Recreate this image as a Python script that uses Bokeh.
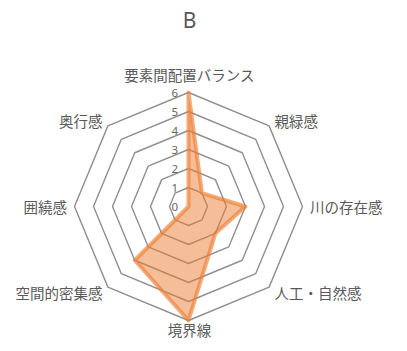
import numpy as np
from bokeh.plotting import figure
from bokeh.models import Range1d, ColumnDataSource
from bokeh.core.properties import value
from bokeh.embed import file_html
from bokeh.resources import INLINE

title_text = "B"
categories = ["要素間配置バランス", "親緑感", "川の存在感", "人工・自然感",
              "境界線", "空間的密集感", "囲繞感", "奥行感"]
values = [6, 1, 3, 2, 6, 4, 0, 0]
ring_values = [1, 2, 3, 4, 5, 6]
ring_labels = ["0", "1", "2", "3", "4", "5", "6"]

W, H = 391, 343
unit = 19.0          # px per value unit
cx, cy = 188, 206    # centre in frame px (from top-left)

p = figure(width=W, height=H, output_backend="svg", toolbar_location=None,
           x_range=Range1d(-cx / unit, (W - cx) / unit),
           y_range=Range1d(-(H - cy) / unit, cy / unit),
           x_axis_location=None, y_axis_location=None, title=None,
           min_border=0)
p.grid.visible = False
p.outline_line_color = None
p.background_fill_color = "white"

n = len(categories)
ang = np.arange(n) * 2 * np.pi / n
sx, cxs = np.sin(ang), np.cos(ang)

# grid rings
for r in ring_values:
    xs = list(r * sx) + [r * sx[0]]
    ys = list(r * cxs) + [r * cxs[0]]
    p.line(xs, ys, line_color="#8f8f8f", line_width=1.4)

# data polygon
vx = [v * s for v, s in zip(values, sx)]
vy = [v * c for v, c in zip(values, cxs)]
p.patch(vx, vy, fill_color="#ED7D31", fill_alpha=0.5,
        line_color="#ED7D31", line_alpha=0.65, line_width=4, line_join="round")

# ring value labels
p.text(x=[-0.55] * len(ring_labels), y=list(range(len(ring_labels))),
       text=ring_labels, text_align="right", text_baseline="middle",
       text_font=value("Noto Sans"), text_font_size="11.5px", text_color="#666666")

# category labels
font = value("Noto Sans CJK JP")
lx, ly, la, lb = [], [], [], []
for i in range(n):
    s, c = sx[i], cxs[i]
    if abs(s) < 1e-6:
        lx.append(0.05); ly.append(6.95 if c > 0 else -6.48)
        la.append("center"); lb.append("middle")
    else:
        r = 6.4
        lx.append(r * s); ly.append(r * c)
        la.append("left" if s > 0 else "right"); lb.append("middle")
src = ColumnDataSource(dict(x=lx, y=ly, t=categories, a=la, b=lb))
p.text(x="x", y="y", text="t", text_align="a", text_baseline="b", source=src,
       text_font=font, text_font_size="14.5px", text_color="#595959")

# title
p.text(x=[0.05], y=[(cy - 19) / unit], text=[title_text], text_align="center",
       text_baseline="middle", text_font=value("Noto Sans"), text_font_size="21px",
       text_color="#595959")

open("out.html", "w").write(file_html(p, INLINE))
